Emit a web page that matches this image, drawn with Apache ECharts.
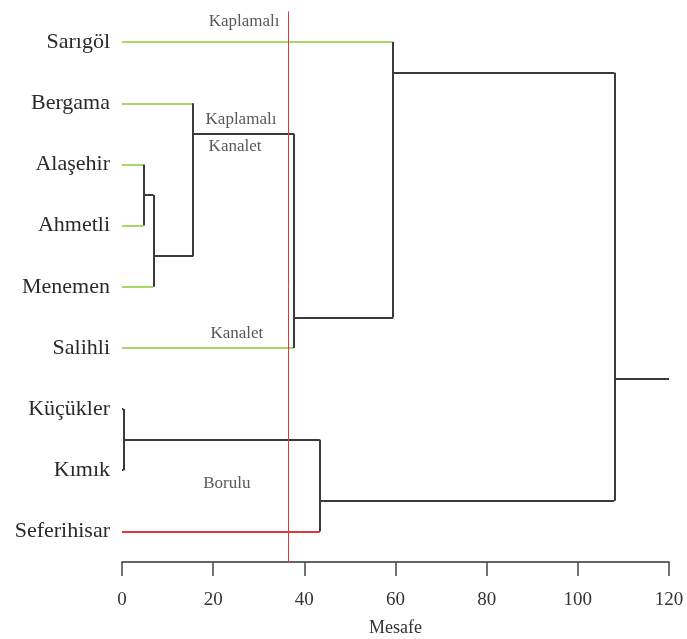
<!DOCTYPE html>
<html>
<head>
<meta charset="utf-8">
<script src="https://cdn.jsdelivr.net/npm/echarts@6/dist/echarts.min.js"></script>
<style>
  html, body { margin: 0; padding: 0; background: #ffffff; }
  #chart { width: 687px; height: 639px; }
</style>
</head>
<body>
<div id="chart"></div>
<script>
// ---- Data ----
const leaves = ['Sarıgöl', 'Bergama', 'Alaşehir', 'Ahmetli', 'Menemen', 'Salihli', 'Küçükler', 'Kımık', 'Seferihisar'];
const leafGroup = ['green', 'green', 'green', 'green', 'green', 'green', 'dark', 'dark', 'red'];

// merges: node ids 0..8 are leaves, 9.. are merges in order
const mergeChildA = [2, 9, 1, 11, 0, 6, 14, 13];
const mergeChildB = [3, 4, 10, 5, 12, 7, 8, 15];
const mergeHeight = [4.7, 6.9, 15.6, 37.7, 59.5, 0.3, 43.4, 108.0];
const mergeLinkRow = [2.5, 3.5, 1.5, 4.5, 0.5, 6.5, 7.5, 5.5];
const rootTailEnd = [120];

const cutoff = [36.5];

const xTicks = [0, 20, 40, 60, 80, 100, 120];

const noteTexts = ['Kaplamalı', 'Kaplamalı', 'Kanalet', 'Kanalet', 'Borulu'];
const noteX = [26.8, 26.1, 24.8, 25.2, 23.0];
const noteRow = [-0.33, 1.26, 1.71, 4.77, 7.21];

// ---- Build segments ----
const nLeaves = leaves.length;
const nodeX = [];
const nodeY = [];
for (let i = 0; i < nLeaves; i++) { nodeX.push(0); nodeY.push(i); }
for (let m = 0; m < mergeHeight.length; m++) { nodeX.push(mergeHeight[m]); nodeY.push(mergeLinkRow[m]); }

const segs = { green: [], red: [], dark: [] };
for (let m = 0; m < mergeHeight.length; m++) {
  const h = mergeHeight[m];
  [mergeChildA[m], mergeChildB[m]].forEach(function (c) {
    const grp = c < nLeaves ? leafGroup[c] : 'dark';
    segs[grp].push({ coords: [[nodeX[c], nodeY[c]], [h, nodeY[c]]] });
  });
  segs.dark.push({ coords: [[h, nodeY[mergeChildA[m]]], [h, nodeY[mergeChildB[m]]]] });
}
const rootIdx = nLeaves + mergeHeight.length - 1;
segs.dark.push({ coords: [[nodeX[rootIdx], nodeY[rootIdx]], [rootTailEnd[0], nodeY[rootIdx]]] });

const colors = { green: '#a9d66a', red: '#e0383a', dark: '#3a3a3a' };
const serif = '"Liberation Serif", "Times New Roman", serif';

function linesSeries(key, width) {
  return {
    type: 'lines',
    coordinateSystem: 'cartesian2d',
    xAxisIndex: 0,
    yAxisIndex: 1,
    polyline: false,
    silent: true,
    lineStyle: { color: colors[key], width: width, opacity: 1 },
    data: segs[key],
    z: key === 'dark' ? 3 : 2
  };
}

const chart = echarts.init(document.getElementById('chart'));
chart.setOption({
  backgroundColor: '#ffffff',
  animation: false,
  grid: { left: 122, right: 18, top: 11.5, bottom: 77, containLabel: false, outerBoundsMode: 'none' },
  xAxis: {
    type: 'value',
    position: 'bottom',
    min: xTicks[0],
    max: xTicks[xTicks.length - 1],
    interval: xTicks[1] - xTicks[0],
    name: 'Mesafe',
    nameLocation: 'middle',
    nameGap: 57,
    nameTextStyle: { fontFamily: serif, fontSize: 18, color: '#333' },
    axisLine: { show: true, onZero: false, lineStyle: { color: '#333', width: 1.5 } },
    axisTick: { show: true, inside: false, length: 14, lineStyle: { color: '#444', width: 1.5 } },
    axisLabel: { fontFamily: serif, fontSize: 19, color: '#333', margin: 29 },
    splitLine: { show: false }
  },
  yAxis: [
    {
      type: 'category',
      data: leaves,
      inverse: true,
      boundaryGap: true,
      axisLine: { show: false, onZero: false },
      axisTick: { show: false },
      axisLabel: { fontFamily: serif, fontSize: 22, color: '#2a2a2a', margin: 12 },
      splitLine: { show: false }
    },
    {
      type: 'value',
      min: -0.5,
      max: nLeaves - 0.5,
      inverse: true,
      show: false,
      axisLine: { onZero: false },
      splitLine: { show: false }
    }
  ],
  series: [
    linesSeries('green', 2),
    linesSeries('red', 2),
    linesSeries('dark', 2),
    {
      type: 'scatter',
      xAxisIndex: 0,
      yAxisIndex: 1,
      symbolSize: 0,
      silent: true,
      data: noteTexts.map(function (t, i) { return { name: t, value: [noteX[i], noteRow[i]] }; }),
      label: {
        show: true,
        position: 'inside',
        formatter: '{b}',
        fontFamily: serif,
        fontSize: 17,
        color: '#2e2e2e'
      },
      markLine: {
        silent: true,
        symbol: ['none', 'none'],
        label: { show: false },
        lineStyle: { color: '#e0383a', width: 1, type: 'solid' },
        data: [{ xAxis: cutoff[0] }],
        z: 5
      },
      z: 6
    }
  ]
});
</script>
</body>
</html>
